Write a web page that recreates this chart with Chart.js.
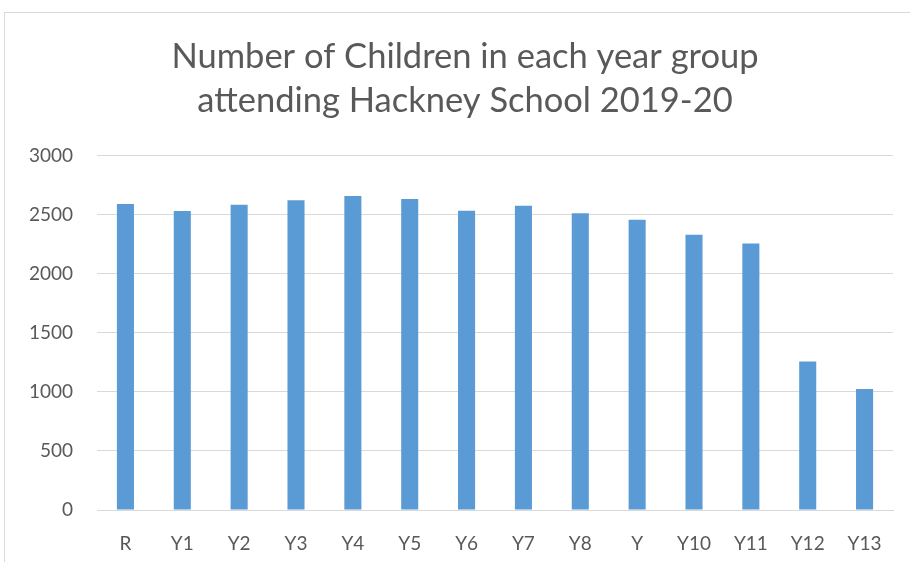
<!DOCTYPE html>
<html>
<head>
<meta charset="utf-8">
<script src="https://cdn.jsdelivr.net/npm/chart.js@4/dist/chart.umd.min.js"></script>
<style>
  html, body { margin: 0; padding: 0; background: #fff; }
  #wrap { position: relative; width: 910px; height: 562px; overflow: hidden; }
  #frame { position: absolute; left: 4px; top: 12px; width: 1000px; height: 700px; border: 1px solid #d9d9d9; box-sizing: border-box; }
  #c { position: absolute; left: 0; top: 0; }
</style>
</head>
<body>
<div id="wrap">
  <div id="frame"></div>
  <canvas id="c" width="910" height="562"></canvas>
</div>
<script>
const categories = ["R", "Y1", "Y2", "Y3", "Y4", "Y5", "Y6", "Y7", "Y8", "Y", "Y10", "Y11", "Y12", "Y13"];
const children = [2593, 2534, 2587, 2624, 2661, 2636, 2536, 2579, 2514, 2460, 2333, 2259, 1259, 1025];
const titleLines = ["Number of Children in each year group", "attending Hackney School 2019-20"];

const centerTitle = {
  id: 'centerTitle',
  afterLayout(chart) {
    if (chart.titleBlock) {
      chart.titleBlock.left = 37;
      chart.titleBlock.right = 893;
    }
  }
};

new Chart(document.getElementById('c'), {
  type: 'bar',
  data: {
    labels: categories,
    datasets: [{
      data: children,
      backgroundColor: '#5B9BD5',
      barPercentage: 0.6,
      categoryPercentage: 0.5
    }]
  },
  plugins: [centerTitle],
  options: {
    responsive: false,
    animation: false,
    devicePixelRatio: 1,
    layout: { padding: { left: 0, right: 17, top: 35, bottom: 0 } },
    plugins: {
      legend: { display: false },
      tooltip: { enabled: false },
      title: {
        display: true,
        text: titleLines,
        color: '#595959',
        font: { family: 'Lato', size: 34.5, weight: 'normal', lineHeight: 1.275 },
        padding: { top: 0, bottom: 33 }
      }
    },
    scales: {
      x: {
        grid: { display: false, drawTicks: false },
        border: { display: true, color: '#d9d9d9', width: 1 },
        ticks: { color: '#595959', font: { family: 'Lato', size: 19 }, padding: 22 },
        afterFit: (s) => { s.height = 52; }
      },
      y: {
        min: 0, max: 3000,
        grid: { color: '#d9d9d9', lineWidth: 1, drawTicks: false },
        border: { display: false },
        ticks: { stepSize: 500, color: '#595959', font: { family: 'Lato', size: 19 }, padding: 24,
                 callback: (v) => String(v) },
        afterFit: (s) => { s.width = 97; }
      }
    }
  }
});
</script>
</body>
</html>
